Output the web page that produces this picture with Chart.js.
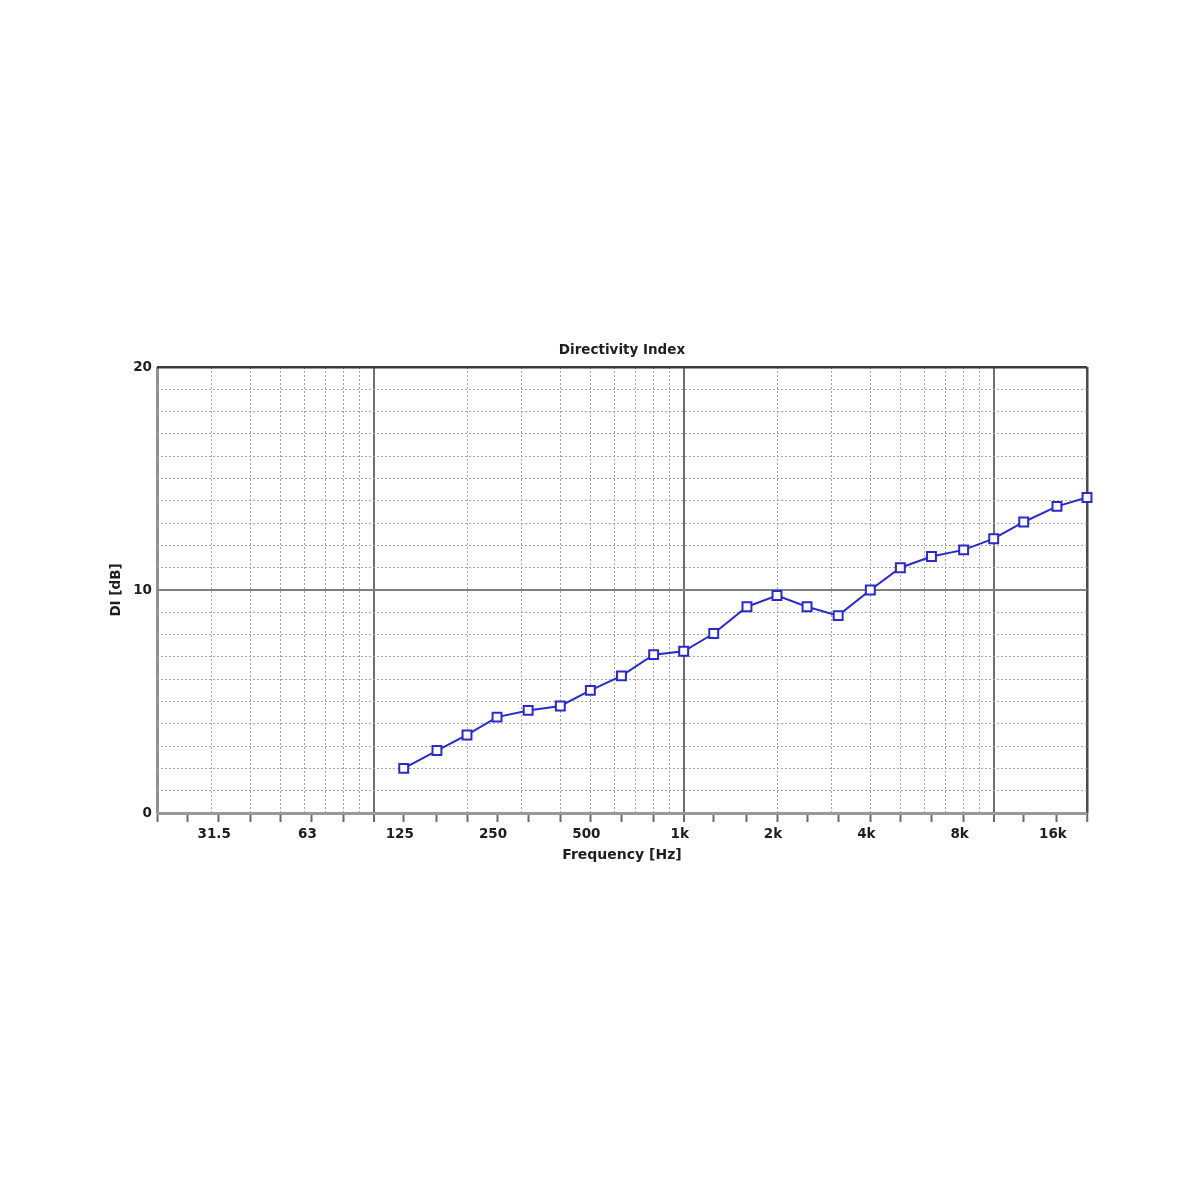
<!DOCTYPE html>
<html>
<head>
<meta charset="utf-8">
<script src="https://cdn.jsdelivr.net/npm/chart.js@4/dist/chart.umd.min.js"></script>
<style>
  html, body { margin: 0; padding: 0; background: #ffffff; }
  #wrap { width: 1200px; height: 1200px; position: relative; }
</style>
</head>
<body>
<div id="wrap"><canvas id="c" width="1200" height="1200"></canvas></div>
<script>
// ---- data ----
const frequencies = [125, 160, 200, 250, 315, 400, 500, 630, 800, 1000, 1250, 1600, 2000, 2500, 3150, 4000, 5000, 6300, 8000, 10000, 12500, 16000, 20000];
const diValues = [2.0, 2.8, 3.5, 4.3, 4.6, 4.8, 5.5, 6.15, 7.1, 7.25, 8.05, 9.25, 9.75, 9.25, 8.85, 10.0, 11.0, 11.5, 11.8, 12.3, 13.05, 13.75, 14.15];

// tick labels (octave centres)
const labelValues = [31.5, 63, 125, 250, 500, 1000, 2000, 4000, 8000, 16000];
const labelTexts = ['31.5', '63', '125', '250', '500', '1k', '2k', '4k', '8k', '16k'];

// third-octave tick marks
const bandTicks = [20, 25, 31.5, 40, 50, 63, 80, 100, 125, 160, 200, 250, 315, 400, 500, 630, 800, 1000, 1250, 1600, 2000, 2500, 3150, 4000, 5000, 6300, 8000, 10000, 12500, 16000, 20000];
// logarithmic grid lines
const gridValues = [20, 30, 40, 50, 60, 70, 80, 90, 100, 200, 300, 400, 500, 600, 700, 800, 900, 1000, 2000, 3000, 4000, 5000, 6000, 7000, 8000, 9000, 10000, 20000];
const majorX = [100, 1000, 10000];
const majorY = [10];

const xMin = 20, xMax = 20000, yMin = 0, yMax = 20;

const allXTicks = Array.from(new Set(bandTicks.concat(gridValues))).sort((a, b) => a - b);

const FONT = "'DejaVu Sans', 'Liberation Sans', sans-serif";
const blue = '#2a2acc';
const dotted = '#a3a3a3';
const clear = 'rgba(0,0,0,0)';

function xGridColor(ctx) {
  const v = ctx.tick ? ctx.tick.value : null;
  if (v === xMin) return '#909090';
  if (v === xMax) return '#4a4a4a';
  if (majorX.includes(v)) return '#6e6e6e';
  if (gridValues.includes(v)) return dotted;
  return clear;
}
function xGridWidth(ctx) {
  const v = ctx.tick ? ctx.tick.value : null;
  if (v === xMin) return 3;
  if (v === xMax) return 2.5;
  if (majorX.includes(v)) return 2;
  return 1;
}
function xDash(ctx) {
  const v = ctx.tick ? ctx.tick.value : null;
  if (v === xMin || v === xMax || majorX.includes(v)) return [];
  return [2, 2];
}
function yGridColor(ctx) {
  const v = ctx.tick ? ctx.tick.value : null;
  if (v === yMin) return '#999999';
  if (v === yMax) return '#3a3a3a';
  if (majorY.includes(v)) return '#808080';
  return dotted;
}
function yGridWidth(ctx) {
  const v = ctx.tick ? ctx.tick.value : null;
  if (v === yMin) return 3;
  if (v === yMax) return 2.5;
  if (majorY.includes(v)) return 2;
  return 1;
}
function yDash(ctx) {
  const v = ctx.tick ? ctx.tick.value : null;
  if (v === yMin || v === yMax || majorY.includes(v)) return [];
  return [2, 2];
}

new Chart(document.getElementById('c'), {
  type: 'line',
  data: {
    datasets: [{
      label: 'DI',
      data: frequencies.map((f, i) => ({ x: f, y: diValues[i] })),
      borderColor: blue,
      borderWidth: 2,
      pointStyle: 'rect',
      pointRadius: 6.3,
      pointHoverRadius: 6.3,
      pointBorderWidth: 2,
      pointBorderColor: blue,
      pointBackgroundColor: '#ffffff',
      tension: 0,
      clip: false
    }]
  },
  options: {
    responsive: false,
    animation: false,
    devicePixelRatio: 1,
    layout: { padding: { left: 100, right: 113, top: 330, bottom: 320 } },
    plugins: {
      legend: { display: false },
      tooltip: { enabled: false },
      title: { display: false }
    },
    scales: {
      x: {
        type: 'logarithmic',
        position: 'bottom',
        min: xMin,
        max: xMax,
        bounds: 'data',
        afterBuildTicks: (scale) => { scale.ticks = allXTicks.map(v => ({ value: v })); },
        afterFit: (scale) => { scale.height = 67; },
        grid: {
          color: xGridColor,
          lineWidth: xGridWidth,
          drawTicks: true,
          tickLength: 9,
          tickWidth: 2,
          tickColor: (ctx) => bandTicks.includes(ctx.tick ? ctx.tick.value : null) ? '#6a6a6a' : clear
        },
        border: { display: false, dash: xDash },
        ticks: {
          autoSkip: false,
          maxRotation: 0,
          minRotation: 0,
          padding: 4,
          labelOffset: -4,
          color: '#1e1e1e',
          font: { family: FONT, size: 13.5, weight: 'bold' },
          callback: (value) => {
            const i = labelValues.indexOf(value);
            return i >= 0 ? labelTexts[i] : '';
          }
        },
        title: {
          display: true,
          text: 'Frequency [Hz]',
          color: '#1e1e1e',
          font: { family: FONT, size: 14, weight: 'bold', lineHeight: 1.2 },
          padding: { top: 0, bottom: 16.6 }
        }
      },
      top: {
        type: 'linear',
        position: 'top',
        min: 0,
        max: 1,
        afterFit: (scale) => { scale.height = 37; },
        grid: { display: false, drawTicks: false },
        border: { display: false },
        ticks: { display: false },
        title: {
          display: true,
          text: 'Directivity Index',
          color: '#1e1e1e',
          font: { family: FONT, size: 13.5, weight: 'bold', lineHeight: 1.2 },
          padding: { top: 12.5, bottom: 0 }
        }
      },
      y: {
        type: 'linear',
        position: 'left',
        min: yMin,
        max: yMax,
        afterFit: (scale) => { scale.width = 57; },
        grid: {
          color: yGridColor,
          lineWidth: yGridWidth,
          drawTicks: false
        },
        border: { display: false, dash: yDash },
        ticks: {
          stepSize: 1,
          autoSkip: false,
          padding: 5,
          color: '#1e1e1e',
          font: { family: FONT, size: 13.5, weight: 'bold' },
          callback: (value) => (value % 10 === 0 ? String(value) : '')
        },
        title: {
          display: true,
          text: 'DI [dB]',
          color: '#1e1e1e',
          font: { family: FONT, size: 13.5, weight: 'bold', lineHeight: 1.2 },
          padding: { top: 8.6, bottom: 0 }
        }
      }
    }
  }
});
</script>
</body>
</html>
